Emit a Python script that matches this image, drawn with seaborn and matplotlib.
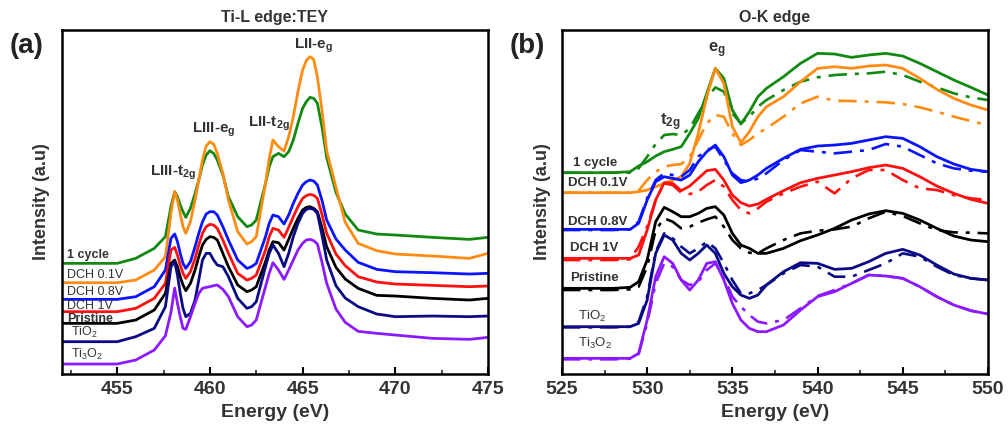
import numpy as np
import pandas as pd
import matplotlib
matplotlib.use("Agg")
import matplotlib.pyplot as plt
import seaborn as sns
from matplotlib.ticker import MultipleLocator

# ---- Ti-L edge (TEY), intensities in arbitrary units (stacked) ----
ti_energy = [452, 455, 456, 457, 457.6, 457.9, 458.1, 458.25, 458.4, 458.55, 458.7, 458.95,
             459.2, 459.4, 459.6, 459.8, 460.0, 460.2, 460.4, 460.7, 461.0, 461.5, 462.0,
             462.25, 462.5, 463.0, 463.2, 463.4, 463.7, 464.0, 464.25, 464.5, 464.75, 465.0,
             465.2, 465.4, 465.6, 465.8, 466.05, 466.3, 466.8, 467.3, 468, 469, 470, 472,
             474, 475]
ti_1cycle = [332, 332, 347, 377, 412, 502, 547, 532, 507, 487, 470, 497, 542, 582, 627, 657,
             670, 662, 642, 597, 532, 472, 442, 447, 462, 572, 622, 652, 662, 652, 667, 702,
             752, 797, 817, 830, 827, 812, 740, 650, 545, 480, 432, 420, 417, 410, 404, 410]
ti_dch01 = [274, 274, 282, 312, 352, 482, 547, 522, 482, 442, 422, 457, 522, 582, 642, 684,
            697, 690, 662, 602, 522, 427, 390, 397, 412, 572, 647, 702, 682, 669, 712, 772,
            847, 912, 940, 952, 944, 890, 790, 670, 560, 455, 392, 370, 360, 354, 347, 362]
ti_dch08 = [224, 224, 232, 262, 312, 407, 420, 397, 362, 332, 317, 337, 382, 422, 457, 480,
            487, 487, 477, 442, 402, 342, 317, 322, 332, 412, 452, 477, 472, 450, 477, 512,
            542, 567, 577, 582, 579, 567, 520, 462, 405, 372, 335, 314, 307, 304, 300, 302]
ti_dch1 = [187, 187, 197, 227, 272, 372, 380, 357, 327, 302, 287, 307, 347, 387, 422, 442,
           449, 447, 437, 402, 362, 302, 282, 287, 297, 372, 412, 437, 432, 410, 440, 472,
           502, 527, 535, 539, 536, 527, 478, 422, 360, 325, 292, 276, 270, 266, 262, 264]
ti_pristine = [152, 152, 162, 192, 242, 332, 342, 322, 292, 267, 250, 272, 312, 352, 387, 404,
               412, 410, 402, 362, 322, 267, 247, 252, 262, 337, 372, 397, 394, 372, 404, 437,
               467, 492, 500, 502, 497, 487, 438, 382, 320, 285, 257, 236, 234, 227, 222, 227]
ti_tio2 = [97, 97, 112, 137, 202, 322, 337, 297, 242, 197, 172, 182, 222, 282, 342, 362,
           362, 342, 327, 322, 292, 227, 197, 202, 217, 322, 362, 387, 362, 322, 362, 412,
           452, 482, 494, 497, 494, 482, 415, 342, 265, 228, 202, 180, 172, 174, 172, 174]
ti_ti3o2 = [30, 30, 42, 72, 115, 185, 258, 212, 172, 137, 134, 172, 212, 242, 257, 260,
            262, 265, 267, 254, 232, 172, 142, 147, 162, 262, 302, 334, 312, 284, 312, 342,
            372, 392, 402, 404, 400, 390, 335, 272, 195, 155, 128, 122, 117, 107, 104, 110]

# ---- O-K edge: solid = measured, dash-dot = second trace ----
o_energy = [525, 528, 529, 529.5, 530, 530.5, 531, 531.5, 532, 532.5, 533, 533.5, 534, 534.5,
            535, 535.5, 536, 536.5, 537, 538, 539, 540, 541, 542, 543, 544, 545, 546, 547, 548,
            549, 550]
o_1cycle = [604, 604, 607, 624, 637, 654, 667, 674, 682, 722, 767, 842, 917, 887, 792, 750, 787,
            832, 857, 892, 932, 962, 960, 950, 957, 962, 954, 932, 907, 882, 860, 837]
o_1cycle_b = [604, 604, 604, 617, 652, 690, 717, 720, 717, 737, 782, 827, 860, 847, 782, 752, 772,
              802, 822, 852, 877, 890, 897, 900, 902, 907, 897, 877, 860, 842, 830, 822]
o_dch01 = [544, 544, 544, 547, 552, 562, 572, 582, 592, 632, 722, 832, 917, 872, 742, 694, 727,
           772, 802, 832, 877, 917, 922, 917, 924, 927, 917, 887, 854, 827, 807, 792]
o_dch01_b = [544, 544, 544, 550, 582, 607, 622, 627, 630, 652, 702, 752, 777, 772, 722, 687, 702,
             722, 737, 772, 812, 832, 820, 819, 817, 815, 810, 800, 787, 772, 759, 747]
o_dch08 = [434, 434, 434, 452, 522, 577, 592, 587, 582, 597, 637, 667, 687, 652, 597, 574, 582,
           597, 617, 647, 674, 684, 687, 692, 702, 712, 707, 682, 652, 630, 614, 607]
o_dch08_b = [432, 432, 434, 457, 527, 582, 602, 597, 592, 612, 652, 672, 682, 642, 602, 582, 577,
             587, 602, 642, 672, 667, 662, 667, 672, 690, 682, 657, 632, 617, 610, 607]
o_dch1 = [347, 347, 347, 357, 432, 522, 574, 572, 550, 564, 587, 610, 614, 582, 537, 514, 504,
          510, 524, 550, 574, 587, 597, 607, 619, 627, 617, 592, 564, 542, 524, 512]
o_dch1_b = [342, 342, 344, 382, 442, 522, 572, 567, 544, 540, 547, 567, 582, 562, 522, 492, 482,
            497, 517, 542, 562, 577, 542, 587, 612, 612, 582, 557, 552, 537, 527, 522]
o_pristine = [257, 257, 260, 277, 342, 457, 500, 487, 472, 472, 482, 497, 502, 477, 422, 387, 377,
              362, 362, 377, 400, 417, 437, 462, 480, 490, 482, 462, 437, 414, 402, 397]
o_pristine_b = [252, 252, 254, 262, 322, 432, 467, 457, 437, 442, 454, 464, 472, 442, 402, 377, 364,
                362, 377, 402, 422, 430, 434, 442, 467, 487, 474, 452, 432, 425, 424, 422]
o_tio2 = [142, 142, 142, 152, 222, 362, 417, 402, 362, 342, 362, 387, 362, 302, 262, 237, 227,
          237, 267, 307, 334, 332, 314, 317, 337, 362, 374, 357, 327, 300, 287, 282]
o_tio2_b = [140, 140, 142, 157, 232, 367, 422, 407, 382, 362, 377, 397, 377, 332, 282, 242, 242,
            252, 267, 302, 327, 322, 292, 292, 312, 332, 362, 352, 322, 297, 287, 282]
o_ti3o2 = [47, 47, 47, 62, 162, 292, 352, 332, 282, 252, 282, 332, 337, 282, 212, 162, 137,
           127, 127, 147, 192, 232, 247, 272, 297, 294, 287, 262, 232, 207, 190, 180]
o_ti3o2_b = [44, 44, 46, 60, 152, 272, 332, 322, 282, 267, 277, 312, 332, 292, 232, 202, 177,
             157, 152, 162, 197, 234, 252, 272, 297, 294, 287, 262, 232, 207, 190, 180]

colors = ["#128a12", "#ff8c12", "#0a14ff", "#ff1010", "#000000", "#0a0a85", "#8c1aff"]

sns.set_theme(style="white")
plt.rcParams["font.family"] = ["Liberation Sans", "DejaVu Sans"]
plt.rcParams["mathtext.fontset"] = "custom"
plt.rcParams["mathtext.rm"] = "Liberation Sans"
plt.rcParams["mathtext.bf"] = "Liberation Sans:bold"
plt.rcParams["mathtext.default"] = "regular"

fig = plt.figure(figsize=(10.08, 4.34), dpi=100)
ax1 = fig.add_axes([0.0611, 0.1382, 0.4230, 0.7926])
ax2 = fig.add_axes([0.5575, 0.1382, 0.4226, 0.7926])

txt = "#333333"

# Ti-L edge
ti_series = [ti_1cycle, ti_dch01, ti_dch08, ti_dch1, ti_pristine, ti_tio2, ti_ti3o2]
for vals, c in zip(ti_series, colors):
    sns.lineplot(x=ti_energy, y=vals, ax=ax1, color=c, linewidth=2.0, sort=False)

# O-K edge
o_solid = [o_1cycle, o_dch01, o_dch08, o_dch1, o_pristine, o_tio2, o_ti3o2]
o_dash = [o_1cycle_b, o_dch01_b, o_dch08_b, o_dch1_b, o_pristine_b, o_tio2_b, o_ti3o2_b]
for sol, das, c in zip(o_solid, o_dash, colors):
    sns.lineplot(x=o_energy, y=das, ax=ax2, color=c, linewidth=1.9, sort=False,
                 linestyle=(0, (7, 3, 1.5, 3)))
    sns.lineplot(x=o_energy, y=sol, ax=ax2, color=c, linewidth=2.0, sort=False)

# curve labels
ax1.text(452.3, 357, "1 cycle", fontsize=9, fontweight="bold", color=txt, va="center")
ax1.text(452.3, 297, "DCH 0.1V", fontsize=9, color=txt, va="center")
ax1.text(452.3, 246, "DCH 0.8V", fontsize=9, color=txt, va="center")
ax1.text(452.3, 204, "DCH 1V", fontsize=9, color=txt, va="center")
ax1.text(452.3, 165, "Pristine", fontsize=9, fontweight="bold", color=txt, va="center")
ax1.text(452.5, 126, "TiO$_2$", fontsize=9, color=txt, va="center")
ax1.text(452.5, 60, "Ti$_3$O$_2$", fontsize=9, color=txt, va="center")

ax1.text(458.0, 603, r"LIII-t$\mathbf{_{2g}}$", fontsize=11, fontweight="bold", color=txt,
         ha="center", va="center")
ax1.text(460.2, 732, r"LIII-e$\mathbf{_g}$", fontsize=11, fontweight="bold", color=txt,
         ha="center", va="center")
ax1.text(463.2, 750, r"LII-t$\mathbf{_{2g}}$", fontsize=11, fontweight="bold", color=txt,
         ha="center", va="center")
ax1.text(465.6, 984, r"LII-e$\mathbf{_g}$", fontsize=11, fontweight="bold", color=txt,
         ha="center", va="center")

o_names = ["1 cycle", "DCH 0.1V", "DCH 0.8V", "DCH 1V", "Pristine", "TiO$_2$", "Ti$_3$O$_2$"]
o_pos = [(525.65, 633), (525.35, 573), (525.35, 456), (525.5, 378), (525.5, 288),
         (525.95, 174), (525.95, 93)]
for name, (ex, iy) in zip(o_names, o_pos):
    w = "normal" if "$" in name else "bold"
    ax2.text(ex, iy, name, fontsize=9.5, fontweight=w, color=txt, va="center")

ax2.text(534.1, 972, r"e$\mathbf{_g}$", fontsize=12, fontweight="bold", color=txt,
         ha="center", va="center")
ax2.text(531.35, 756, r"t$\mathbf{_{2g}}$", fontsize=12, fontweight="bold", color=txt,
         ha="center", va="center")

for ax, lims, title in [(ax1, (452, 475), "Ti-L edge:TEY"), (ax2, (525, 550), "O-K edge")]:
    ax.set_xlim(*lims)
    ax.set_ylim(0, 1032)
    ax.set_yticks([])
    ax.xaxis.set_major_locator(MultipleLocator(5))
    ax.xaxis.set_minor_locator(MultipleLocator(2.5))
    ax.tick_params(axis="x", which="major", direction="in", length=5, width=1.5,
                   labelsize=14, pad=5, colors="#000000", labelcolor=txt, bottom=True)
    ax.tick_params(axis="x", which="minor", direction="in", length=3, width=1.2, bottom=True)
    for lab in ax.get_xticklabels():
        lab.set_fontweight("bold")
    for s in ax.spines.values():
        s.set_linewidth(1.8)
        s.set_color("#000000")
    ax.set_xlabel("Energy (eV)", fontsize=14, fontweight="bold", color=txt, labelpad=4)
    ax.set_ylabel("Intensity (a.u)", fontsize=13, fontweight="bold", color=txt, labelpad=8)
    ax.set_title(title, fontsize=11.5, fontweight="bold", color=txt, pad=6)

fig.text(0.026, 0.893, "(a)", fontsize=20, fontweight="bold", color="#222222",
         ha="center", va="center")
fig.text(0.523, 0.893, "(b)", fontsize=20, fontweight="bold", color="#222222",
         ha="center", va="center")

fig.savefig("out.png", dpi=100)
